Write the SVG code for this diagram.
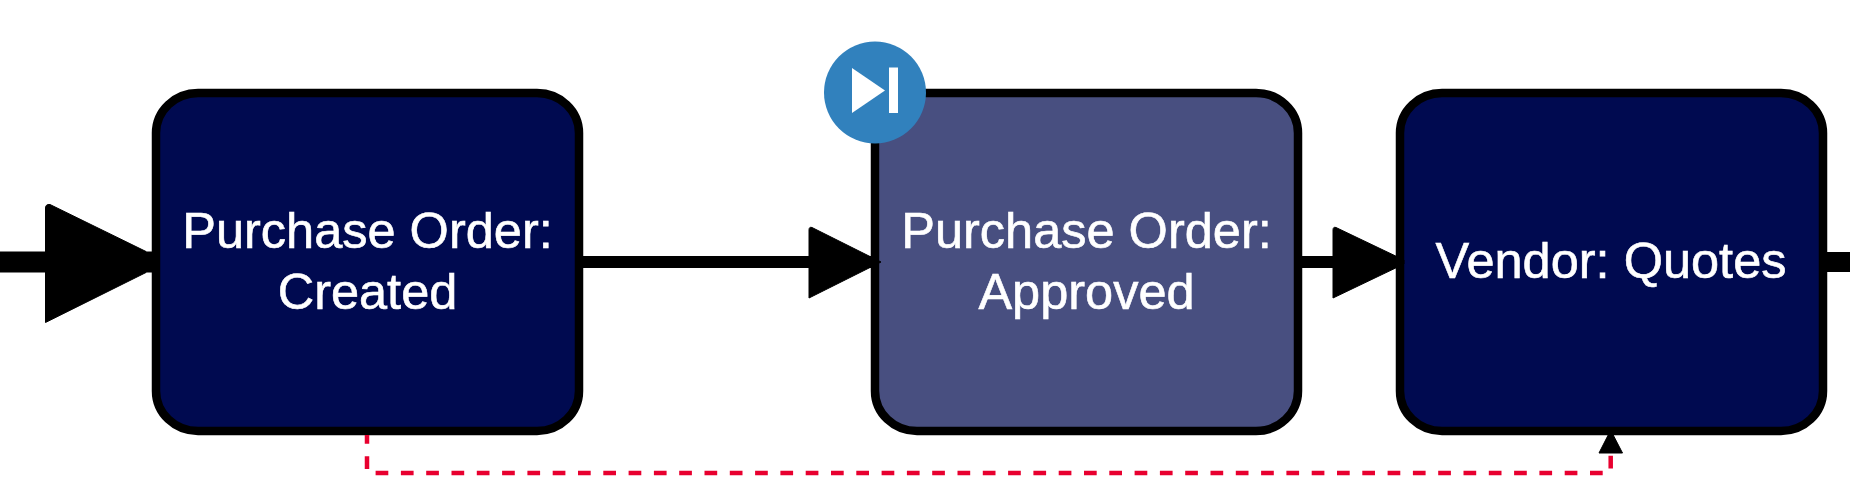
<svg xmlns="http://www.w3.org/2000/svg" width="1850" height="504" viewBox="0 0 1850 504">
  <style>
    .box { stroke: #000; stroke-width: 8.5; }
    .current { fill: #000a50; }
    .done { fill: #484f80; }
    .label { font-family: "Liberation Sans", Arial, sans-serif; font-size: 50.5px; fill: #fff; stroke: #fff; stroke-width: 0.6; text-anchor: middle; }
    .flow { stroke: #000; fill: none; }
    .head { fill: #000; stroke: #000; stroke-width: 1; stroke-linejoin: round; }
    .back { stroke: #e8002f; stroke-width: 4.5; fill: none; stroke-dasharray: 12.7 12.6; stroke-dashoffset: 4; }
  </style>
  <rect width="1850" height="504" fill="#fff"/>
  <g id="po-created">
    <rect class="box current" x="156" y="93" width="423" height="338" rx="42" ry="40"/>
    <text class="label" x="367.500" y="247.500">Purchase Order:</text>
    <text class="label" x="367.500" y="308.500">Created</text>
  </g>
  <g id="po-approved">
    <rect class="box done" x="875" y="93" width="423" height="338" rx="42" ry="40"/>
    <text class="label" x="1086.500" y="247.500">Purchase Order:</text>
    <text class="label" x="1086.500" y="308.500">Approved</text>
  </g>
  <g id="vendor-quotes">
    <rect class="box current" x="1400" y="93" width="423" height="338" rx="42" ry="40"/>
    <text class="label" x="1611" y="277.500">Vendor: Quotes</text>
  </g>
  <g id="skip-badge">
    <circle cx="875" cy="92.500" r="51" fill="#3181bd"/>
    <path fill="#fff" d="M852 68L885 90.500L852 113Z"/>
    <rect fill="#fff" x="889" y="67.500" width="9" height="45.500"/>
  </g>
  <g id="connectors">
    <path class="flow" stroke-width="21" d="M0 262H152"/>
    <path class="head" d="M45.500 208Q45.500 204 50 204.500L146 251.500V272.500L45.500 322.500Z"/>
    <path class="flow" stroke-width="12" d="M583 262H871"/>
    <path class="head" d="M809 230Q809 226.500 812 227.500L881 262L809 298Z"/>
    <path class="flow" stroke-width="12" d="M1302 262H1396"/>
    <path class="head" d="M1333 230Q1333 226.500 1336 227.500L1404 260V264L1333 298Z"/>
    <path class="flow" stroke-width="20" d="M1827 262H1850"/>
    <path class="back" d="M367 435V473H1610.700V453"/>
    <path class="head" d="M1608.200 435H1613.200L1622.500 453H1599Z"/>
  </g>
</svg>
